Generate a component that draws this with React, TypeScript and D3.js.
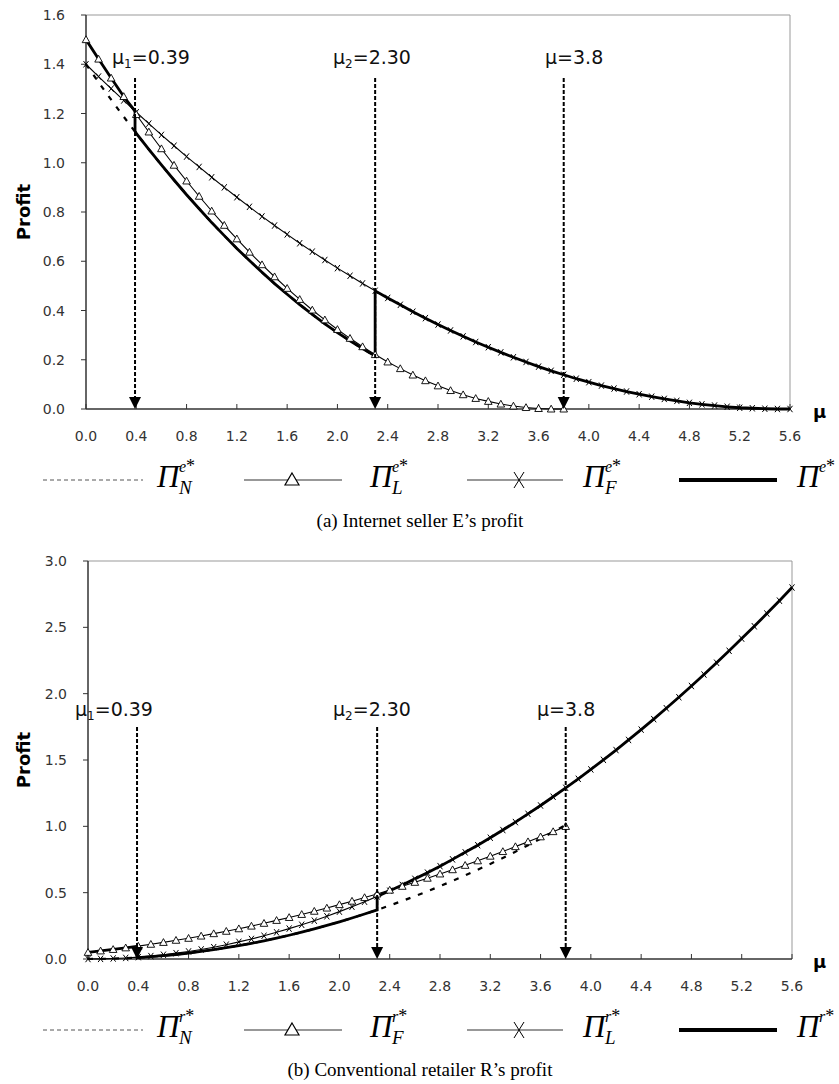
import React from "react";
import * as d3 from "d3";

// x grid (mu), every 0.1 from 0 to 5.6
const muGrid = d3.range(0, 57).map((i) => i / 10);

const xTicks = [0, 0.4, 0.8, 1.2, 1.6, 2.0, 2.4, 2.8, 3.2, 3.6, 4.0, 4.4, 4.8, 5.2, 5.6];
const yTicksE = [0, 0.2, 0.4, 0.6, 0.8, 1.0, 1.2, 1.4, 1.6];
const yTicksR = [0, 0.5, 1.0, 1.5, 2.0, 2.5, 3.0];

// thresholds
const mu1 = 0.39;
const mu2 = 2.3;
const mu3 = 3.8;

// (a) Internet seller E
const eLeader = [
  1.5, 1.421, 1.344, 1.269, 1.196, 1.125, 1.057, 0.99, 0.926, 0.864, 0.804, 0.746, 0.691, 0.637,
  0.586, 0.537, 0.49, 0.445, 0.402, 0.362, 0.323, 0.287, 0.253, 0.221, 0.191, 0.164, 0.138, 0.115,
  0.094, 0.075, 0.058, 0.043, 0.031, 0.02, 0.012, 0.006, 0.002, 0.0, 0.0,
];
const eFollower = [
  1.4, 1.35, 1.301, 1.253, 1.205, 1.159, 1.113, 1.069, 1.025, 0.983, 0.941, 0.9, 0.86, 0.821, 0.782,
  0.745, 0.709, 0.673, 0.639, 0.605, 0.572, 0.541, 0.51, 0.48, 0.451, 0.423, 0.395, 0.369, 0.343,
  0.319, 0.295, 0.272, 0.251, 0.23, 0.21, 0.191, 0.172, 0.155, 0.139, 0.123, 0.109, 0.095, 0.083,
  0.071, 0.06, 0.05, 0.041, 0.033, 0.025, 0.019, 0.014, 0.009, 0.005, 0.003, 0.001, 0.0, 0.0,
];
const eNash = [
  1.4, 1.327, 1.256, 1.187, 1.119, 1.054, 0.991, 0.93, 0.87, 0.813, 0.757, 0.704, 0.652, 0.603,
  0.555, 0.509, 0.466, 0.424, 0.384, 0.346, 0.31, 0.277, 0.245, 0.215,
];
const eJump1 = [1.21, 1.13];

// (b) Conventional retailer R
const rFollower = [
  0.05, 0.061, 0.072, 0.084, 0.097, 0.111, 0.125, 0.141, 0.156, 0.173, 0.191, 0.209, 0.228, 0.248,
  0.269, 0.291, 0.313, 0.336, 0.36, 0.384, 0.41, 0.436, 0.463, 0.49, 0.519, 0.548, 0.578, 0.609,
  0.641, 0.673, 0.706, 0.74, 0.775, 0.81, 0.847, 0.884, 0.921, 0.96, 0.999,
];
const rLeader = [
  0.0, 0.001, 0.004, 0.008, 0.014, 0.022, 0.032, 0.044, 0.057, 0.072, 0.089, 0.108, 0.129, 0.151,
  0.175, 0.201, 0.229, 0.258, 0.289, 0.322, 0.357, 0.394, 0.432, 0.472, 0.514, 0.558, 0.604, 0.651,
  0.7, 0.751, 0.804, 0.858, 0.914, 0.972, 1.032, 1.094, 1.157, 1.223, 1.29, 1.358, 1.429, 1.501,
  1.575, 1.651, 1.729, 1.808, 1.89, 1.973, 2.058, 2.144, 2.233, 2.323, 2.415, 2.508, 2.604, 2.701,
  2.8,
];
const rNash = [
  0.0, 0.001, 0.003, 0.006, 0.011, 0.018, 0.025, 0.034, 0.045, 0.057, 0.07, 0.085, 0.101, 0.118,
  0.137, 0.158, 0.179, 0.202, 0.227, 0.253, 0.28, 0.309, 0.339, 0.37, 0.403, 0.438, 0.473, 0.51,
  0.549, 0.589, 0.63, 0.673, 0.717, 0.762, 0.809, 0.858, 0.907, 0.958, 1.011,
];
const rJump1 = [0.095, 0.012];

type Pt = [number, number];
const pts = (vals: number[]): Pt[] => vals.map((v, i) => [muGrid[i], v] as Pt);

// equilibrium profit: first regime up to mu1, Nash between mu1 and mu2, last regime after mu2
function equilibrium(first: number[], nash: number[], last: number[], jump: number[]): Pt[] {
  const a = pts(first).filter((d) => d[0] < mu1);
  const b = pts(nash).filter((d) => d[0] > mu1 && d[0] <= mu2 + 1e-9);
  const c = pts(last).filter((d) => d[0] >= mu2 - 1e-9);
  return [...a, [mu1, jump[0]], [mu1, jump[1]], ...b, ...c];
}

const TRI = "M0,-3.8 L3.8,3 L-3.8,3 Z";
const XM = "M-2.5,-3.2 L2.5,3.2 M2.5,-3.2 L-2.5,3.2";

type Ann = { mu: number; sub: string; val: string; lx: number };

type PanelProps = {
  left: number;
  top: number;
  bottom: number;
  yMax: number;
  yTicks: number[];
  triVals: number[];
  xVals: number[];
  nashVals: number[];
  eq: Pt[];
  anns: Ann[];
  labelY: number;
  lineTop: number;
  sup: string;
  legendSubs: string[];
  legendY: number;
  caption: string;
  captionY: number;
};

// Π with superscript and (optional) subscript
function PiLabel({ x, y, sup, sub }: { x: number; y: number; sup: string; sub?: string }) {
  const serif = "Liberation Serif, serif";
  return (
    <g fontFamily={serif} fontStyle="italic" fill="#000">
      <text x={x} y={y} fontSize={31}>
        Π
      </text>
      <text x={x + 22} y={y - 15} fontSize={16}>
        {sup}
        <tspan fontStyle="normal" fontSize={18}>
          *
        </tspan>
      </text>
      {sub && (
        <text x={x + 22} y={y + 7} fontSize={19}>
          {sub}
        </text>
      )}
    </g>
  );
}

function Panel(p: PanelProps) {
  const right = p.left + 704;
  const x = d3.scaleLinear().domain([0, 5.6]).range([p.left, right]);
  const y = d3.scaleLinear().domain([0, p.yMax]).range([p.bottom, p.top]);
  const line = d3
    .line<Pt>()
    .x((d) => x(d[0]))
    .y((d) => y(d[1]));
  const tri = pts(p.triVals);
  const xs = pts(p.xVals);
  const nash = pts(p.nashVals);
  const fnt = "DejaVu Sans, sans-serif";
  const ly = p.legendY;
  return (
    <g>
      {/* frame */}
      <line x1={p.left} x2={right} y1={p.top} y2={p.top} stroke="#999" strokeWidth={1} />
      <line x1={right} x2={right} y1={p.top} y2={p.bottom} stroke="#999" strokeWidth={1} />
      <line x1={p.left} x2={p.left} y1={p.top} y2={p.bottom} stroke="#333" strokeWidth={1.5} />
      <line x1={p.left} x2={right} y1={p.bottom} y2={p.bottom} stroke="#333" strokeWidth={1.5} />
      {p.yTicks.map((t) => (
        <g key={"y" + t}>
          <line x1={p.left - 5} x2={p.left} y1={y(t)} y2={y(t)} stroke="#333" />
          <text
            x={p.left - 21}
            y={y(t)}
            dy="0.36em"
            textAnchor="end"
            fontFamily={fnt}
            fontSize={14}
            fill="#333"
          >
            {t.toFixed(1)}
          </text>
        </g>
      ))}
      {xTicks.map((t) => (
        <g key={"x" + t}>
          <line x1={x(t)} x2={x(t)} y1={p.bottom} y2={p.bottom - 5} stroke="#333" />
          <text
            x={x(t)}
            y={p.bottom + 32}
            textAnchor="middle"
            fontFamily={fnt}
            fontSize={14}
            fill="#333"
          >
            {t.toFixed(1)}
          </text>
        </g>
      ))}
      <text x={813} y={p.bottom + 9} fontFamily={fnt} fontWeight="bold" fontSize={18}>
        μ
      </text>
      <text
        transform={`translate(30,${(p.top + p.bottom) / 2}) rotate(-90)`}
        textAnchor="middle"
        fontFamily={fnt}
        fontWeight="bold"
        fontSize={18}
      >
        Profit
      </text>

      {/* series */}
      <path d={line(nash) || ""} fill="none" stroke="#000" strokeWidth={2.2} strokeDasharray="5,8" />
      <path d={line(tri) || ""} fill="none" stroke="#000" strokeWidth={1.1} />
      <path d={line(xs) || ""} fill="none" stroke="#000" strokeWidth={1.1} />
      <path d={line(p.eq) || ""} fill="none" stroke="#000" strokeWidth={2.8} />
      {xs.map((d, i) => (
        <path
          key={"xm" + i}
          d={XM}
          transform={`translate(${x(d[0])},${y(d[1])})`}
          stroke="#000"
          strokeWidth={1}
          fill="none"
        />
      ))}
      {tri.map((d, i) => (
        <path
          key={"tm" + i}
          d={TRI}
          transform={`translate(${x(d[0])},${y(d[1])})`}
          stroke="#000"
          strokeWidth={0.9}
          fill="#fff"
        />
      ))}

      {/* thresholds */}
      {p.anns.map((a) => (
        <g key={"a" + a.mu}>
          <line
            x1={x(a.mu)}
            x2={x(a.mu)}
            y1={p.lineTop}
            y2={p.bottom - 11}
            stroke="#000"
            strokeWidth={2}
            strokeDasharray="4,2"
          />
          <path
            d={`M${x(a.mu) - 6},${p.bottom - 12} L${x(a.mu) + 6},${p.bottom - 12} L${x(a.mu)},${p.bottom} Z`}
            fill="#000"
          />
          <text x={a.lx} y={p.labelY} fontFamily={fnt} fontSize={19} fill="#111">
            μ
            {a.sub && (
              <tspan fontSize={12} dy={4}>
                {a.sub}
              </tspan>
            )}
            <tspan dy={a.sub ? -4 : 0}>={a.val}</tspan>
          </text>
        </g>
      ))}

      {/* legend */}
      <line x1={43} x2={143} y1={ly} y2={ly} stroke="#555" strokeWidth={1} strokeDasharray="4,3" />
      <PiLabel x={157} y={ly + 7} sup={p.sup} sub={p.legendSubs[0]} />
      <line x1={244} x2={342} y1={ly} y2={ly} stroke="#333" strokeWidth={1.2} />
      <path
        d="M292,-6 L299,6 L285,6 Z"
        transform={`translate(0,${ly - 1})`}
        fill="#fff"
        stroke="#000"
        strokeWidth={1.2}
      />
      <PiLabel x={370} y={ly + 7} sup={p.sup} sub={p.legendSubs[1]} />
      <line x1={467} x2={563} y1={ly} y2={ly} stroke="#333" strokeWidth={1.2} />
      <path
        d={`M514,${ly - 8} L524,${ly + 8} M524,${ly - 8} L514,${ly + 8}`}
        stroke="#000"
        strokeWidth={1}
      />
      <PiLabel x={583} y={ly + 7} sup={p.sup} sub={p.legendSubs[2]} />
      <line x1={679} x2={777} y1={ly} y2={ly} stroke="#000" strokeWidth={4} />
      <PiLabel x={797} y={ly + 7} sup={p.sup} />

      <text
        x={420}
        y={p.captionY}
        textAnchor="middle"
        fontFamily="Liberation Serif, serif"
        fontSize={19}
      >
        {p.caption}
      </text>
    </g>
  );
}

export default function App() {
  return (
    <svg
      width={839}
      height={1084}
      style={{ position: "absolute", left: 0, top: 0, background: "#fff" }}
    >
      <rect width={839} height={1084} fill="#fff" />
      <Panel
        left={86}
        top={15}
        bottom={409}
        yMax={1.6}
        yTicks={yTicksE}
        triVals={eLeader}
        xVals={eFollower}
        nashVals={eNash}
        eq={equilibrium(eLeader, eNash, eFollower, eJump1)}
        anns={[
          { mu: mu1, sub: "1", val: "0.39", lx: 112 },
          { mu: mu2, sub: "2", val: "2.30", lx: 333 },
          { mu: mu3, sub: "", val: "3.8", lx: 545 },
        ]}
        labelY={64}
        lineTop={78}
        sup="e"
        legendSubs={["N", "L", "F"]}
        legendY={480}
        caption="(a) Internet seller E’s profit"
        captionY={527}
      />
      <Panel
        left={88}
        top={561}
        bottom={959}
        yMax={3.0}
        yTicks={yTicksR}
        triVals={rFollower}
        xVals={rLeader}
        nashVals={rNash}
        eq={equilibrium(rFollower, rNash, rLeader, rJump1)}
        anns={[
          { mu: mu1, sub: "1", val: "0.39", lx: 75 },
          { mu: mu2, sub: "2", val: "2.30", lx: 333 },
          { mu: mu3, sub: "", val: "3.8", lx: 537 },
        ]}
        labelY={716}
        lineTop={727}
        sup="r"
        legendSubs={["N", "F", "L"]}
        legendY={1030}
        caption="(b) Conventional retailer R’s profit"
        captionY={1076}
      />
    </svg>
  );
}
